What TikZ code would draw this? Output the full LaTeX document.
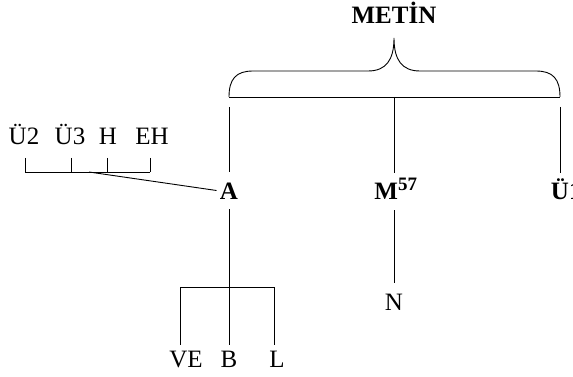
\documentclass[tikz,border=0pt]{standalone}
\usepackage{fontspec}
\setmainfont{Liberation Serif}
\tikzset{
  lbl/.style={font=\fontsize{25}{29}\selectfont, text height=17pt, text depth=0pt,
    inner xsep=3pt, inner ysep=10pt, anchor=base},
  leaf/.style={lbl, inner ysep=5pt},
  hd/.style={lbl, font=\fontsize{25}{29}\selectfont\bfseries},
}
\begin{document}
\begin{tikzpicture}[x=1pt,y=-1pt,line width=0.9pt]
  \useasboundingbox (0,0) rectangle (573,377);
  % title and brace
  \node[hd] (metin) at (394,24) {METİN};
  \draw (229,97) .. controls (229,79) and (236,71) .. (253,71) -- (368,71)
        .. controls (386,71) and (394,60) .. (394,38)
        .. controls (394,60) and (402,71) .. (420,71) -- (536,71)
        .. controls (553,71) and (560,79) .. (560,97);
  \draw (229,97) -- (560,97);
  % middle row
  \node[hd] (A) at (229,199) {A};
  \node[hd] (M) at (396,200) {M\textsuperscript{\fontsize{19}{20}\selectfont 57}};
  \node[hd] (U1) at (560,200) {Ü\rlap{1}};
  \coordinate (bl) at (229,107);
  \coordinate (bm) at (394,97);
  \coordinate (br) at (560,107);
  \draw (bl) -- (A.north);
  \draw (bm) -- (bm |- M.north);
  \draw (br) -- (U1.north);
  % scale on the left
  \foreach \x/\t [count=\i] in {24/Ü2,70/Ü3,108/H,152/EH}
    \node[lbl] (s\i) at (\x,145) {\t};
  \foreach \x in {25,71,107,150}
    \draw (\x,158) -- (\x,172);
  \draw (25,172) -- (150,172);
  \coordinate (tap) at (89,172);
  \draw (tap) -- (A.west);
  % under M
  \node[lbl] (N) at (394,310) {N};
  \draw (bm |- M.south) -- (N.north);
  % under A
  \node[leaf] (VE) at (186,367) {VE};
  \node[leaf] (B) at (229,367) {B};
  \node[leaf] (L) at (277,367) {L};
  \coordinate (f) at (229,287);
  \coordinate (f1) at (180,287);
  \coordinate (f3) at (274,287);
  \draw (A.south) -- (f);
  \draw (f1) -- (f3);
  \draw (f1) -- (f1 |- VE.north);
  \draw (f) -- (B.north);
  \draw (f3) -- (f3 |- L.north);
\end{tikzpicture}
\end{document}
